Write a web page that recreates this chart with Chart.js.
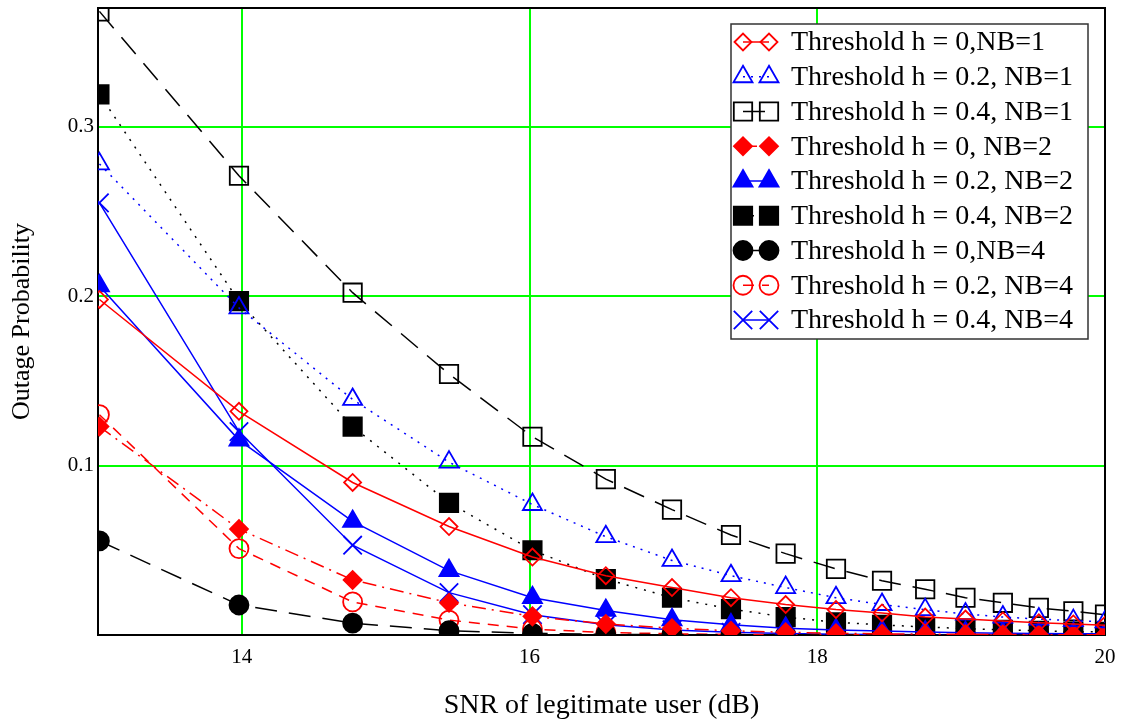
<!DOCTYPE html>
<html>
<head>
<meta charset="utf-8">
<script src="https://cdn.jsdelivr.net/npm/chart.js@4.4.1/dist/chart.umd.min.js"></script>
<style>
  html, body { margin: 0; padding: 0; background: #fff; }
  #wrap { width: 1123px; height: 725px; }
</style>
</head>
<body>
<div id="wrap"><canvas id="c" width="1123" height="725"></canvas></div>
<script>
// SNR points (dB)
const snrDb = [13.01, 13.98, 14.77, 15.44, 16.02, 16.53, 16.99, 17.40, 17.78, 18.13, 18.45, 18.75, 19.03, 19.29, 19.54, 19.78, 20.0];

// outage probability per curve
const h0nb1  = [0.198, 0.132, 0.090, 0.064, 0.046, 0.035, 0.028, 0.022, 0.018, 0.015, 0.013, 0.0106, 0.0094, 0.0083, 0.0072, 0.0065, 0.0058];
const h02nb1 = [0.278, 0.193, 0.139, 0.102, 0.077, 0.058, 0.044, 0.035, 0.028, 0.022, 0.018, 0.015, 0.0124, 0.0106, 0.0094, 0.0085, 0.0078];
const h04nb1 = [0.368, 0.271, 0.202, 0.154, 0.117, 0.092, 0.074, 0.059, 0.048, 0.039, 0.032, 0.027, 0.022, 0.019, 0.016, 0.014, 0.012];
const h0nb2  = [0.123, 0.0625, 0.0325, 0.019, 0.011, 0.0065, 0.004, 0.0025, 0.0016, 0.001, 0.0007, 0.0005, 0.0004, 0.0003, 0.0002, 0.0002, 0.0001];
const h02nb2 = [0.206, 0.115, 0.067, 0.038, 0.022, 0.0145, 0.009, 0.006, 0.004, 0.003, 0.0023, 0.0018, 0.0014, 0.0011, 0.0009, 0.0008, 0.0007];
const h04nb2 = [0.319, 0.197, 0.123, 0.078, 0.050, 0.033, 0.022, 0.0153, 0.0106, 0.0075, 0.006, 0.0047, 0.0038, 0.003, 0.0025, 0.002, 0.0018];
const h0nb4  = [0.0555, 0.0177, 0.007, 0.0025, 0.001, 0.0004, 0.0002, 0.0001, 0.0001, 0, 0, 0, 0, 0, 0, 0, 0];
const h02nb4 = [0.130, 0.051, 0.0195, 0.0088, 0.0035, 0.0015, 0.0007, 0.0003, 0.0002, 0.0001, 0.0001, 0, 0, 0, 0, 0, 0];
const h04nb4 = [0.255, 0.120, 0.053, 0.025, 0.012, 0.006, 0.003, 0.0016, 0.0009, 0.0005, 0.0003, 0.0002, 0.0001, 0.0001, 0.0001, 0, 0];

const xTicks = [14, 16, 18, 20];
const yTicks = [0.1, 0.2, 0.3];

const SERIF = "'Liberation Serif', 'Times New Roman', 'DejaVu Serif', serif";
const RED = '#ff0000', BLUE = '#0000ff', BLACK = '#000000', GRID = '#00ff00';

function pts(arr){ return snrDb.map((x, i) => ({ x, y: arr[i] })) }

// legend order = order of the boxed legend, top to bottom
const series = [
  { label: 'Threshold h = 0,NB=1',    data: h0nb1,  color: RED,   dash: [],            style: 'rectRot',  r: 8.5, fill: false },
  { label: 'Threshold h = 0.2, NB=1', data: h02nb1, color: BLUE,  dash: [2, 6],        style: 'triangle', r: 11,  fill: false },
  { label: 'Threshold h = 0.4, NB=1', data: h04nb1, color: BLACK, dash: [22, 12],      style: 'rect',     r: 13,  fill: false },
  { label: 'Threshold h = 0, NB=2',   data: h0nb2,  color: RED,   dash: [14, 6, 2, 6], style: 'rectRot',  r: 9,   fill: true },
  { label: 'Threshold h = 0.2, NB=2', data: h02nb2, color: BLUE,  dash: [],            style: 'triangle', r: 11,  fill: true },
  { label: 'Threshold h = 0.4, NB=2', data: h04nb2, color: BLACK, dash: [2, 7],        style: 'rect',     r: 13,  fill: true },
  { label: 'Threshold h = 0,NB=4',    data: h0nb4,  color: BLACK, dash: [22, 12],      style: 'circle',   r: 9.5, fill: true },
  { label: 'Threshold h = 0.2, NB=4', data: h02nb4, color: RED,   dash: [11, 8],       style: 'circle',   r: 9.5, fill: false },
  { label: 'Threshold h = 0.4, NB=4', data: h04nb4, color: BLUE,  dash: [],            style: 'crossRot', r: 13,  fill: false }
];

const datasets = series.map(s => ({
  label: s.label,
  data: pts(s.data),
  borderColor: s.color,
  borderWidth: 1.5,
  borderDash: s.dash,
  tension: 0,
  pointStyle: s.style,
  pointRadius: s.r,
  pointBorderWidth: 1.8,
  pointBorderColor: s.color,
  pointBackgroundColor: s.fill ? s.color : 'rgba(0,0,0,0)'
}));

// black frame round the plot area
const framePlugin = {
  id: 'frame',
  beforeDatasetsDraw(chart){
    const {ctx, chartArea: a} = chart;
    ctx.save();
    ctx.strokeStyle = '#000'; ctx.lineWidth = 2;
    ctx.strokeRect(a.left, a.top, a.right - a.left, a.bottom - a.top);
    ctx.restore();
  }
};

// boxed legend: marker - line - marker, then text
const boxLegend = {
  id: 'boxLegend',
  afterDraw(chart){
    const {ctx, chartArea: a} = chart;
    const w = 357, h = 315;
    const x0 = a.right - 17 - w, y0 = a.top + 16;
    ctx.save();
    ctx.fillStyle = '#fff';
    ctx.fillRect(x0, y0, w, h);
    ctx.strokeStyle = '#333'; ctx.lineWidth = 1.5;
    ctx.strokeRect(x0, y0, w, h);
    series.forEach((s, i) => {
      const y = y0 + 18 + i * 34.75;
      const m1 = x0 + 12, m2 = x0 + 38;
      ctx.strokeStyle = s.color; ctx.lineWidth = 1.5;
      ctx.setLineDash(s.dash);
      ctx.beginPath(); ctx.moveTo(m1, y); ctx.lineTo(m2, y); ctx.stroke();
      ctx.setLineDash([]);
      ctx.lineWidth = 1.8;
      ctx.fillStyle = s.fill ? s.color : 'rgba(0,0,0,0)';
      const o = { pointStyle: s.style, radius: s.r, rotation: 0, borderWidth: 1.8 };
      Chart.helpers.drawPoint(ctx, o, m1, y);
      Chart.helpers.drawPoint(ctx, o, m2, y);
      ctx.fillStyle = '#000';
      ctx.font = '28px ' + SERIF;
      ctx.textBaseline = 'middle'; ctx.textAlign = 'left';
      ctx.fillText(s.label, x0 + 60, y + 1);
    });
    ctx.restore();
  }
};

new Chart(document.getElementById('c'), {
  type: 'line',
  data: { datasets },
  plugins: [framePlugin, boxLegend],
  options: {
    responsive: false,
    animation: false,
    devicePixelRatio: 1,
    layout: { autoPadding: false, padding: { top: 8, right: 18, left: 0, bottom: 0 } },
    plugins: { legend: { display: false }, tooltip: { enabled: false } },
    scales: {
      x: {
        type: 'linear', min: 13, max: 20,
        afterBuildTicks: sc => { sc.ticks = xTicks.map(v => ({ value: v })) },
        afterFit: sc => { sc.height = 90; sc.paddingLeft = 0; sc.paddingRight = 0 },
        grid: { color: c => (c.tick && c.tick.value < 20) ? GRID : 'rgba(0,0,0,0)', lineWidth: 2, drawTicks: false },
        border: { display: false },
        ticks: { color: '#000', padding: 10, font: { family: SERIF, size: 21 }, maxRotation: 0 },
        title: { display: true, text: 'SNR of legitimate user (dB)', color: '#000', font: { family: SERIF, size: 28 }, padding: { top: 0, bottom: 3 } }
      },
      y: {
        type: 'linear', min: 0, max: 0.37,
        afterBuildTicks: sc => { sc.ticks = yTicks.map(v => ({ value: v })) },
        afterFit: sc => { sc.width = 98; sc.paddingTop = 0; sc.paddingBottom = 0 },
        grid: { color: GRID, lineWidth: 2, drawTicks: false },
        border: { display: false },
        ticks: { color: '#000', padding: 4, font: { family: SERIF, size: 21 }, callback: v => String(v) },
        title: { display: true, text: 'Outage Probability', color: '#000', font: { family: SERIF, size: 26 }, padding: { top: 7, bottom: 0 } }
      }
    }
  }
});
</script>
</body>
</html>
